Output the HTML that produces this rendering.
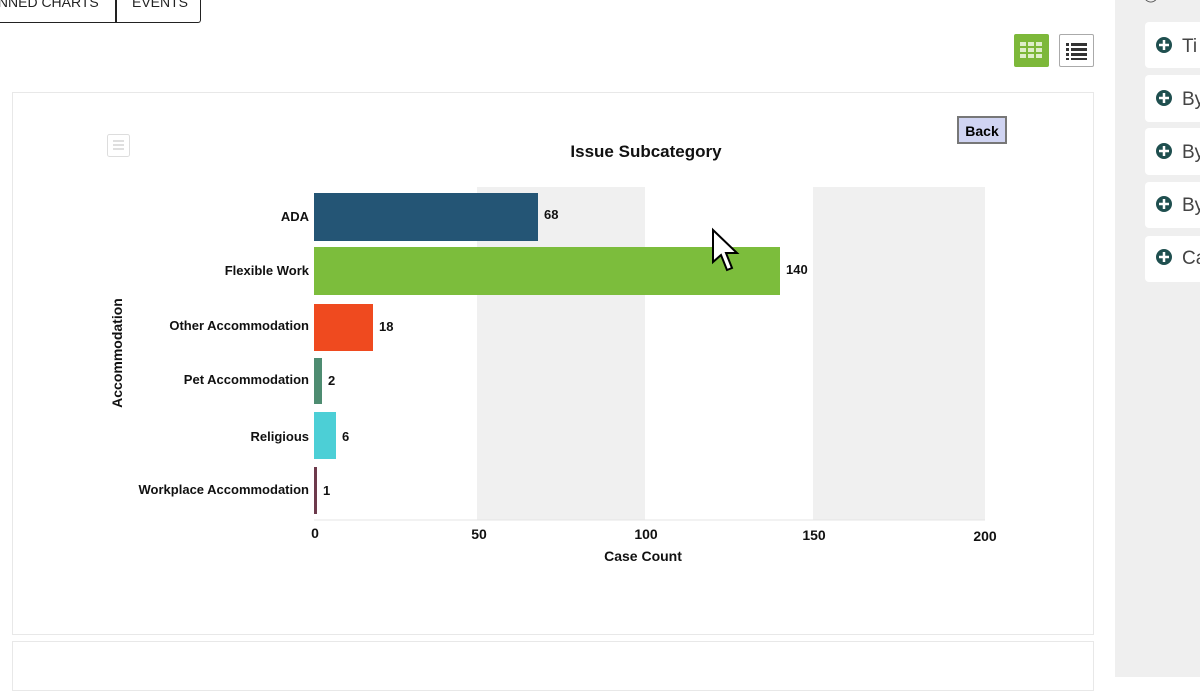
<!DOCTYPE html>
<html><head><meta charset="utf-8"><style>
body{margin:0;width:1200px;height:677px;overflow:hidden;background:#fff;font-family:"Liberation Sans",sans-serif;position:relative}
.abs{position:absolute}
</style></head><body>
<div class="abs" style="left:-10px;top:-10px;width:126px;height:33px;border:1px solid #222;border-top:none;font-size:14px;font-weight:bold;line-height:20px;text-align:right;padding-right:0;box-sizing:border-box"></div>
<div class="abs" style="left:-6px;top:-6px;font-size:14px;color:#222;">INNED CHARTS</div>
<div class="abs" style="left:116px;top:-10px;width:85px;height:33px;border:1px solid #222;border-top:none;border-radius:0 0 3px 0;box-sizing:border-box"></div>
<div class="abs" style="left:132px;top:-6px;font-size:14px;color:#222;">EVENTS</div>
<div class="abs" style="left:0;top:22px;width:116px;border-top:1px solid #222"></div>

<div class="abs" style="left:1014px;top:34px;width:35px;height:33px;background:#7db83a;border-radius:2px"></div>
<svg class="abs" style="left:1014px;top:34px" width="35" height="33"><g fill="#dfeecb"><rect x="6" y="8" width="6" height="4"/><rect x="14" y="8" width="6" height="4"/><rect x="22" y="8" width="6" height="4"/><rect x="6" y="14" width="6" height="4"/><rect x="14" y="14" width="6" height="4"/><rect x="22" y="14" width="6" height="4"/><rect x="6" y="20" width="6" height="4"/><rect x="14" y="20" width="6" height="4"/><rect x="22" y="20" width="6" height="4"/></g></svg>
<div class="abs" style="left:1059px;top:34px;width:35px;height:33px;border:1px solid #aaa;box-sizing:border-box;border-radius:2px"></div>
<svg class="abs" style="left:1059px;top:34px" width="35" height="33"><g fill="#333"><rect x="7" y="9" width="3" height="3"/><rect x="12" y="9" width="16" height="3"/><rect x="7" y="14" width="3" height="3"/><rect x="12" y="14" width="16" height="3"/><rect x="7" y="19" width="3" height="3"/><rect x="12" y="19" width="16" height="3"/><rect x="7" y="24" width="3" height="2"/><rect x="12" y="24" width="16" height="2"/></g></svg>

<div class="abs" style="left:1115px;top:0;width:85px;height:677px;background:#efefef"></div>
<div class="abs" style="left:1143px;top:-14px;font-size:14px;color:#555">◯Date</div>
<div class="abs" style="left:1145px;top:22px;width:60px;height:46px;background:#fff;border-radius:4px"></div>
<div class="abs" style="left:1145px;top:75px;width:60px;height:47px;background:#fff;border-radius:4px"></div>
<div class="abs" style="left:1145px;top:128px;width:60px;height:47px;background:#fff;border-radius:4px"></div>
<div class="abs" style="left:1145px;top:182px;width:60px;height:46px;background:#fff;border-radius:4px"></div>
<div class="abs" style="left:1145px;top:236px;width:60px;height:46px;background:#fff;border-radius:4px"></div>
<svg class="abs" style="left:1145px;top:0" width="55" height="300" font-family="Liberation Sans" font-size="19" fill="#444">
<g fill="#1f4f4f"><circle cx="19" cy="45" r="8"/><circle cx="19" cy="98" r="8"/><circle cx="19" cy="151" r="8"/><circle cx="19" cy="204" r="8"/><circle cx="19" cy="257" r="8"/></g>
<g stroke="#fff" stroke-width="2.5"><path d="M14 45h10M19 40v10M14 98h10M19 93v10M14 151h10M19 146v10M14 204h10M19 199v10M14 257h10M19 252v10"/></g>
<text x="37" y="52">Ti</text><text x="37" y="105">By</text><text x="37" y="158">By</text><text x="37" y="211">By</text><text x="37" y="264">Ca</text>
</svg>

<div class="abs" style="left:12px;top:92px;width:1082px;height:543px;border:1px solid #e8e8e8;box-sizing:border-box"></div>
<div class="abs" style="left:12px;top:641px;width:1082px;height:50px;border:1px solid #e8e8e8;box-sizing:border-box"></div>

<svg class="abs" style="left:0;top:0" width="1110" height="640" font-family="Liberation Sans">
<rect x="107.5" y="134.5" width="22" height="22" rx="2" fill="#fff" stroke="#ddd"/>
<path d="M113 141h11M113 145h11M113 149h11" stroke="#ccc" stroke-width="1.2"/>
<rect x="958" y="117" width="48" height="26" fill="#d0d4f2" stroke="#777" stroke-width="2"/>
<text x="982" y="136" font-size="14" font-weight="bold" text-anchor="middle" fill="#000">Back</text>
<text x="646" y="157" font-size="17" font-weight="bold" text-anchor="middle" fill="#111">Issue Subcategory</text>
<rect x="477" y="187" width="168" height="333" fill="#f0f0f0"/>
<rect x="813" y="187" width="172" height="333" fill="#f0f0f0"/>
<line x1="314" y1="520" x2="985" y2="520" stroke="#e4e4e4"/>
<rect x="314" y="193" width="224" height="48" fill="#245575"/>
<rect x="314" y="247" width="466" height="48" fill="#7cbd3c"/>
<rect x="314" y="304" width="59" height="47" fill="#ef4a1f"/>
<rect x="314" y="358" width="8" height="46" fill="#4e8c71"/>
<rect x="314" y="412" width="22" height="47" fill="#4ccfd6"/>
<rect x="314" y="467" width="3" height="47" fill="#6d3a4c"/>
<g font-size="13" font-weight="bold" fill="#111">
<text x="544" y="219">68</text><text x="786" y="274">140</text><text x="379" y="331">18</text><text x="328" y="385">2</text><text x="342" y="441">6</text><text x="323" y="495">1</text>
</g>
<g font-size="13" font-weight="bold" fill="#111" text-anchor="end">
<text x="309" y="221">ADA</text><text x="309" y="275">Flexible Work</text><text x="309" y="330">Other Accommodation</text><text x="309" y="384">Pet Accommodation</text><text x="309" y="441">Religious</text><text x="309" y="494">Workplace Accommodation</text>
</g>
<g font-size="14" font-weight="bold" fill="#111" text-anchor="middle">
<text x="315" y="538">0</text><text x="479" y="539">50</text><text x="646" y="539">100</text><text x="814" y="540">150</text><text x="985" y="541">200</text>
</g>
<text x="643" y="561" font-size="14" font-weight="bold" text-anchor="middle" fill="#111">Case Count</text>
<text transform="translate(122,353) rotate(-90)" font-size="14" font-weight="bold" text-anchor="middle" fill="#111">Accommodation</text>
<path d="M713 230 L713 262 L721 255 L727 270 L732 268 L726 253 L737 253 Z" fill="#fff" stroke="#000" stroke-width="2"/>
</svg>
</body></html>
